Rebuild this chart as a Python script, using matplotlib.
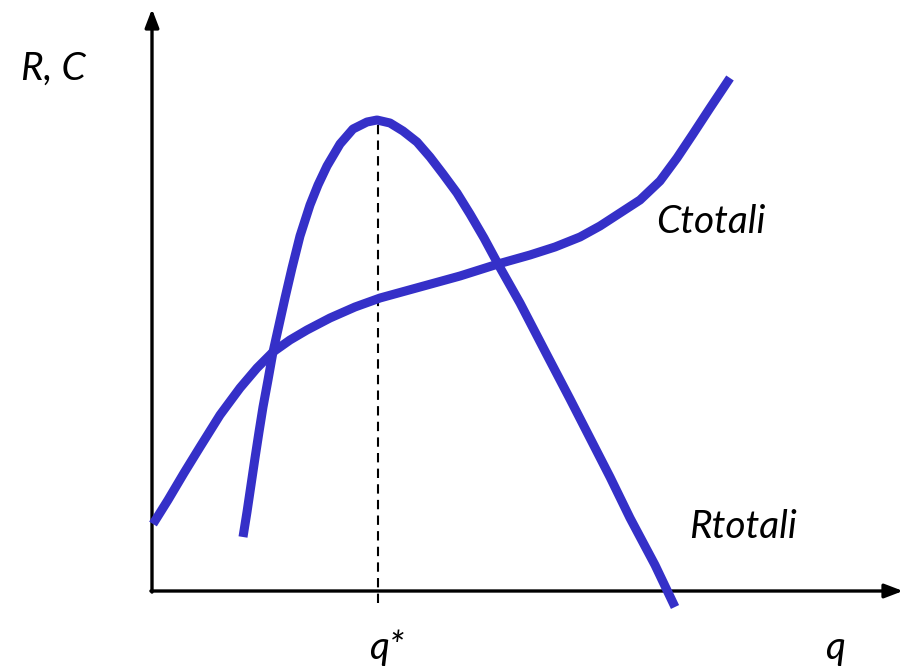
import matplotlib.pyplot as plt

# Curves (x = quantity, y = revenue / cost), origin at the axes corner
c_q = [1, 16, 32, 48, 68, 88, 105, 121, 138, 155, 178, 203, 228, 268, 308, 346, 378,
       403, 428, 448, 468, 488, 508, 525, 541, 558, 578]
c_val = [67, 91, 118, 144, 176, 203, 223, 239, 251, 261, 273, 284, 293, 304, 315, 327,
         336, 344, 354, 365, 378, 391, 410, 433, 457, 483, 513]

r_q = [91, 95, 99, 103, 107, 111, 116, 121, 127, 133, 140, 148, 158, 166, 175, 188,
       201, 215, 225, 238, 251, 265, 278, 291, 305, 318, 332, 346, 368, 395, 418, 438,
       458, 478, 503, 523]
r_val = [54, 79, 106, 133, 159, 184, 211, 239, 266, 293, 323, 355, 386, 406, 425, 447,
         462, 469, 471, 468, 460, 449, 434, 417, 398, 377, 353, 327, 288, 236, 192, 153,
         114, 73, 26, -16]

q_star = 226
q_max = 751
v_max = 582

blue = '#3530c8'

fig = plt.figure(figsize=(9.05, 6.72), dpi=100)
ax = fig.add_axes([0, 0, 1, 1])
ax.set_xlim(-152, 753)
ax.set_ylim(-81, 591)
ax.axis('off')

# axes with arrow heads
head = '-|>,head_length=1.1,head_width=0.42'
ax.annotate('', xy=(q_max, 0), xytext=(-1.1, 0),
            arrowprops=dict(arrowstyle=head, lw=2.4, color='black',
                            shrinkA=0, shrinkB=0))
ax.annotate('', xy=(0, v_max), xytext=(0, -1.1),
            arrowprops=dict(arrowstyle=head, lw=2.4, color='black',
                            shrinkA=0, shrinkB=0))

# dashed line at the revenue peak
ax.plot([q_star, q_star], [-12, max(r_val)], color='black', lw=1.5,
        linestyle=(0, (4.5, 3)), zorder=1)

ax.plot(c_q, c_val, color=blue, lw=6.5, solid_capstyle='butt',
        solid_joinstyle='round', zorder=3)
ax.plot(r_q, r_val, color=blue, lw=6.5, solid_capstyle='butt',
        solid_joinstyle='round', zorder=3)

font = dict(family='Lato', style='italic', fontsize=28, color='black')
ax.text(-99, 511, 'R, C', ha='center', va='baseline', **font)
ax.text(235, -68, 'q*', ha='center', va='baseline', **font)
ax.text(683, -68, 'q', ha='center', va='baseline', **font)
ax.text(559, 358, 'Ctotali', ha='center', va='baseline', **font)
ax.text(591, 53, 'Rtotali', ha='center', va='baseline', **font)

fig.savefig('out.png', dpi=100)
